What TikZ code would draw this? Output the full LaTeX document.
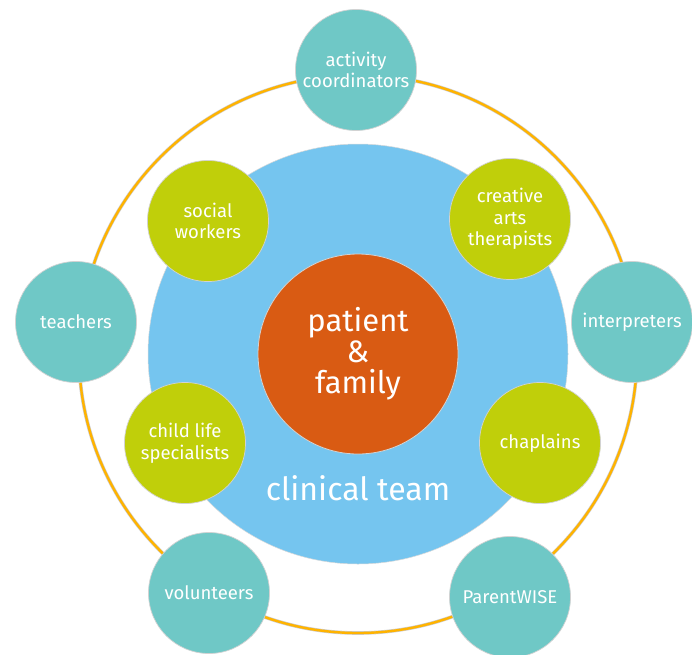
\documentclass[tikz,border=0pt]{standalone}
\usepackage{fontspec}
\setmainfont{Fira Sans}

\definecolor{ringgold}{HTML}{FFB300}
\definecolor{teamblue}{HTML}{75C5EF}
\definecolor{teamorange}{HTML}{D95B13}
\definecolor{teamteal}{HTML}{6FC8C6}
\definecolor{teamgreen}{HTML}{C0CF0A}

\tikzset{
  member/.style={circle, draw=gray!35, line width=0.7pt, text=white,
    align=center, inner sep=0pt, minimum size=121pt,
    font=\fontsize{18.5}{21.5}\selectfont},
  support/.style={member, fill=teamteal},
  clinician/.style={member, fill=teamgreen},
}

\begin{document}
\begin{tikzpicture}[x=1pt, y=-1pt]
\useasboundingbox (0,0) rectangle (692,654);
% Lines
\draw[gray!40, line width=3.6pt] (358,354) circle (279);
\draw[ringgold, line width=2.4pt] (358,354) circle (279);
\node[circle, fill=teamblue, draw=gray!30, line width=0.5pt, minimum size=420pt] (team) at (358,354) {};
\node[circle, fill=teamorange, draw=gray!35, line width=0.8pt, minimum size=200pt, text=white,
  align=center, font=\fontsize{31}{31}\selectfont] (patient) at (358,354) {patient\\\&\\family};
\node[text=white, font=\fontsize{32}{32}\selectfont] (teamlabel) at (358,488) {clinical team};
% Nodes
\node[support] (activity) at (356,70) {activity\\coordinators};
\node[support] (teachers) at (76,322) {teachers};
\node[support] (interpreters) at (632,322) {interpreters};
\node[support] (volunteers) at (209,593) {volunteers};
\node[support] (parentwise) at (510,597) {ParentWISE};
\node[clinician] (social) at (208,221) {social\\workers};
\node[clinician] (creative) at (510,219) {creative\\arts\\therapists};
\node[clinician] (childlife) at (185,443) {child life\\specialists};
\node[clinician] (chaplains) at (540,443) {chaplains};
\end{tikzpicture}
\end{document}
